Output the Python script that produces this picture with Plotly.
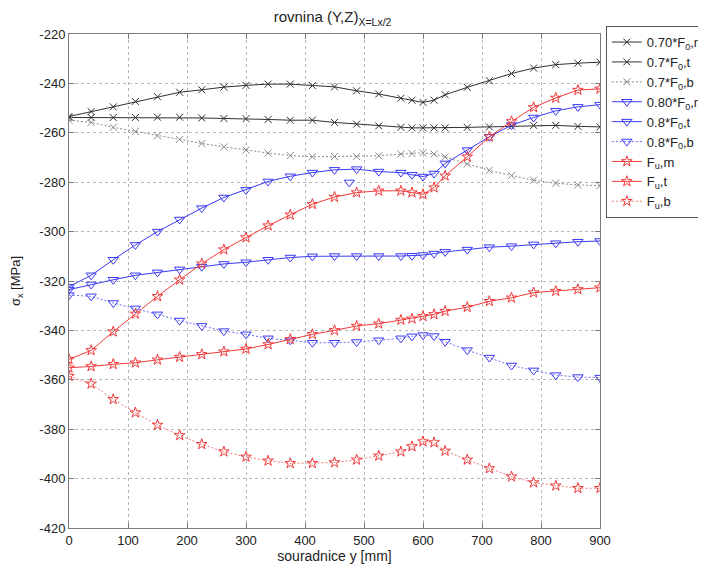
import plotly.graph_objects as go

xs = [0, 37.5, 75, 112.5, 150, 187.5, 225, 262.5, 300, 337.5, 375, 412.5, 450, 487.5,
      525, 562.5, 581.25, 600, 618.75, 637.5, 675, 712.5, 750, 787.5, 825, 862.5, 900]

f070_m = [-253.4, -251.4, -249.5, -247.3, -245.4, -243.6, -242.6, -241.5, -240.8, -240.3, -240.3,
          -240.9, -241.4, -243.0, -244.3, -246.0, -246.8, -247.7, -246.8, -244.6, -241.6, -238.9,
          -236.0, -233.8, -232.4, -231.8, -231.4]
f07_t = [-253.8, -253.8, -253.8, -253.8, -253.7, -253.7, -254.0, -254.2, -254.3, -254.6, -254.9,
         -254.9, -255.8, -256.5, -257.2, -257.8, -258.0, -258.0, -258.0, -258.0, -257.8, -257.6,
         -257.3, -257.0, -257.0, -257.4, -257.6]
f07_b = [-254.9, -255.8, -257.8, -259.5, -261.2, -262.7, -264.3, -265.7, -267.0, -268.2, -269.2,
         -269.7, -269.6, -269.6, -269.3, -268.6, -268.4, -268.1, -268.6, -269.8, -272.6, -275.2,
         -277.3, -279.2, -280.4, -281.1, -281.4]
f080_m = [-322.3, -317.7, -311.4, -305.4, -300.0, -295.1, -290.5, -286.2, -283.1, -279.7, -277.6,
          -276.1, -275.0, -274.7, -275.7, -276.1, -277.0, -277.7, -276.5, -272.4, -267.0, -261.6,
          -256.9, -253.8, -251.1, -249.5, -248.6]
f08_t = [-323.5, -321.4, -319.5, -317.7, -316.5, -315.3, -314.2, -313.1, -312.4, -311.4, -310.5,
         -310.0, -309.9, -309.9, -309.9, -309.9, -309.8, -309.5, -308.9, -308.2, -307.3, -306.3,
         -305.9, -305.2, -304.7, -304.1, -303.8]
f08_b = [-325.7, -326.2, -328.9, -331.1, -333.5, -336.0, -338.2, -340.3, -341.6, -343.2, -344.0,
         -345.0, -345.0, -344.7, -344.0, -343.2, -342.4, -341.9, -342.3, -344.6, -348.0, -351.0,
         -354.2, -356.2, -358.1, -358.9, -359.1]
fu_m = [-351.7, -348.1, -340.5, -333.3, -326.2, -319.5, -313.0, -307.3, -302.4, -297.6, -293.2,
        -288.9, -286.0, -284.2, -283.5, -283.5, -284.2, -284.9, -282.2, -277.4, -269.7, -261.6,
        -255.4, -249.7, -245.9, -242.7, -242.2]
fu_t = [-355.1, -354.6, -353.7, -353.1, -351.9, -350.8, -349.7, -348.6, -347.5, -345.7, -343.6,
        -341.6, -340.0, -338.2, -337.3, -335.8, -335.3, -334.3, -333.5, -332.2, -330.6, -328.2,
        -326.8, -324.7, -324.1, -323.4, -322.7]
fu_b = [-358.5, -361.6, -367.9, -373.3, -378.3, -382.5, -386.1, -389.1, -391.2, -392.8, -393.8,
        -393.8, -393.5, -392.4, -390.8, -389.1, -387.0, -385.0, -385.4, -388.8, -392.4, -395.9,
        -399.2, -401.6, -402.9, -403.9, -403.9]

stray_x = [475]
stray_y = [-280.1]

names = ["0.70*F<sub>0</sub>,m", "0.7*F<sub>0</sub>,t", "0.7*F<sub>0</sub>,b",
         "0.80*F<sub>0</sub>,m", "0.8*F<sub>0</sub>,t", "0.8*F<sub>0</sub>,b",
         "F<sub>u</sub>,m", "F<sub>u</sub>,t", "F<sub>u</sub>,b"]

x_ticks = [0, 100, 200, 300, 400, 500, 600, 700, 800, 900]
y_ticks = [-420, -400, -380, -360, -340, -320, -300, -280, -260, -240, -220]

BLACK = "#303030"
GRAY = "#8a8a8a"
BLUE = "#3a3af5"
LBLUE = "#7070f5"
RED = "#f03a3a"
LRED = "#f07a7a"
DOTS = "2px,2px"

styles = [
    (f070_m, BLACK, "solid", "x-thin-open", 7, BLACK),
    (f07_t, BLACK, "solid", "x-thin-open", 7, BLACK),
    (f07_b, GRAY, DOTS, "x-thin-open", 7, GRAY),
    (f080_m, BLUE, "solid", "triangle-down-open", 9, BLUE),
    (f08_t, BLUE, "solid", "triangle-down-open", 9, BLUE),
    (f08_b, LBLUE, DOTS, "triangle-down-open", 9, BLUE),
    (fu_m, RED, "solid", "star-open", 8, RED),
    (fu_t, RED, "solid", "star-open", 8, RED),
    (fu_b, LRED, DOTS, "star-open", 8, RED),
]

fig = go.Figure()
for name, (ys, lc, dash, sym, size, mc) in zip(names, styles):
    fig.add_trace(go.Scatter(
        x=xs, y=ys, name=name, mode="lines+markers",
        line=dict(color=lc, width=1, dash=dash),
        marker=dict(symbol=sym, size=size, color=mc, line=dict(width=1, color=mc)),
    ))

fig.add_trace(go.Scatter(
    x=stray_x, y=stray_y, mode="markers", showlegend=False,
    marker=dict(symbol="triangle-down-open", size=9, color=BLUE, line=dict(width=1, color=BLUE)),
))

axis_common = dict(
    showline=True, linecolor="#7a7a7a", linewidth=1, mirror="allticks",
    ticks="inside", ticklen=5, tickcolor="#7a7a7a",
    showgrid=True, gridcolor="#b8b8b8", griddash="dot", gridwidth=1,
    zeroline=False, automargin=False,
    tickfont=dict(family="Liberation Sans, Arial", size=13, color="#222"),
)

fig.update_layout(
    width=698, height=558,
    margin=dict(l=61, r=106, t=26, b=38, autoexpand=False),
    paper_bgcolor="white", plot_bgcolor="white",
    font=dict(family="Liberation Sans, Arial", size=13, color="#222"),
    title=dict(text="rovnina (Y,Z)<sub>X=Lx/2</sub>", x=0.465, xanchor="center",
               y=0.993, yanchor="top", font=dict(size=15)),
    xaxis=dict(range=[0, 900], tickvals=x_ticks, ticktext=[str(v) for v in x_ticks],
               title=dict(text="souradnice y [mm]", standoff=3, font=dict(size=14)),
               **axis_common),
    yaxis=dict(range=[-420, -220], tickvals=y_ticks, ticktext=[str(v) for v in y_ticks],
               title=dict(text="σ<sub>x</sub> [MPa]", standoff=28, font=dict(size=13)),
               **axis_common),
    legend=dict(x=1.011, xanchor="left", y=1.016, yanchor="top",
                bordercolor="#555", borderwidth=1, bgcolor="white",
                font=dict(size=13), tracegroupgap=0, itemwidth=30),
    showlegend=True,
)

fig.write_html("out.html")
